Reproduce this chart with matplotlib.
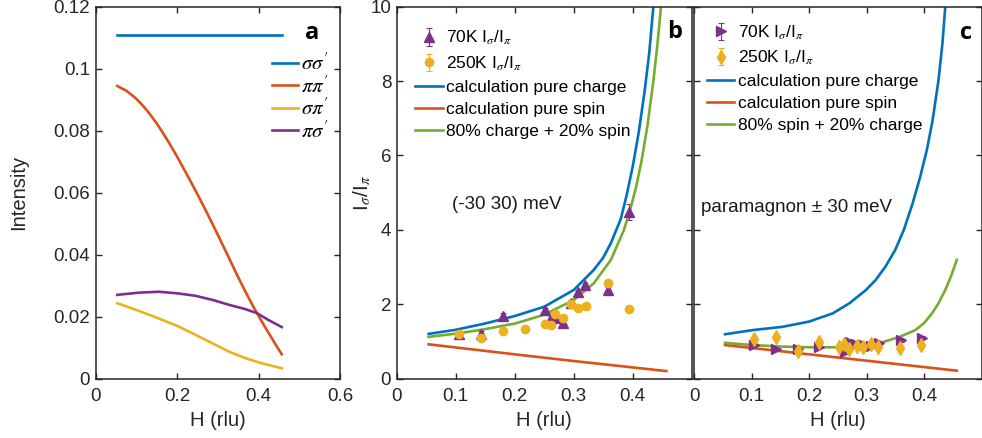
import matplotlib
matplotlib.use('Agg')
import matplotlib.pyplot as plt

plt.rcParams['font.family'] = ['Liberation Sans', 'DejaVu Sans']
plt.rcParams['mathtext.fontset'] = 'stix'

BLUE = '#0072BD'; ORANGE = '#D95319'; YELLOW = '#EDB120'; PURPLE = '#7E2F8E'; GREEN = '#77AC30'
SPINE = '#262626'

# ---------------- panel a data ----------------
h_ss = [0.052, 0.457]
i_ss = [0.111, 0.111]
h_pp = [0.053, 0.075, 0.098, 0.115, 0.131, 0.15, 0.163, 0.18, 0.2, 0.22, 0.245, 0.265, 0.286,
        0.305, 0.327, 0.345, 0.367, 0.385, 0.4, 0.415, 0.433, 0.445, 0.457]
i_pp = [0.0944, 0.0929, 0.0905, 0.0882, 0.0857, 0.0823, 0.0797, 0.0761, 0.0716, 0.0668, 0.0607, 0.0556, 0.0501,
        0.0450, 0.0390, 0.0340, 0.0282, 0.0237, 0.0202, 0.0168, 0.0129, 0.0103, 0.0078]
h_sp = [0.053, 0.098, 0.147, 0.2, 0.245, 0.286, 0.327, 0.367, 0.408, 0.457]
i_sp = [0.0243, 0.0222, 0.0198, 0.0170, 0.0141, 0.0114, 0.0087, 0.0066, 0.0049, 0.0033]
h_ps = [0.053, 0.106, 0.155, 0.2, 0.245, 0.286, 0.327, 0.367, 0.396, 0.424, 0.457]
i_ps = [0.0270, 0.0277, 0.0280, 0.0275, 0.0267, 0.0254, 0.0238, 0.0224, 0.0211, 0.0189, 0.0166]

# ---------------- panel b data ----------------
hb_charge = [0.054, 0.10, 0.15, 0.20, 0.25, 0.30, 0.334, 0.35, 0.363, 0.38, 0.39, 0.40, 0.41, 0.42, 0.428, 0.435]
rb_charge = [1.20, 1.31, 1.48, 1.68, 1.93, 2.38, 2.92, 3.25, 3.64, 4.30, 4.95, 5.70, 6.60, 7.70, 8.75, 10.0]
hb_spin = [0.054, 0.20, 0.30, 0.457]
rb_spin = [0.92, 0.65, 0.47, 0.20]
hb_mix = [0.054, 0.102, 0.147, 0.201, 0.249, 0.30, 0.334, 0.363, 0.385, 0.395, 0.405, 0.415, 0.425, 0.435, 0.442, 0.448]
rb_mix = [1.12, 1.21, 1.32, 1.48, 1.71, 2.11, 2.56, 3.19, 3.99, 4.50, 5.10, 5.85, 6.80, 8.00, 9.00, 10.0]

hb_70 = [0.105, 0.143, 0.180, 0.252, 0.262, 0.271, 0.282, 0.295, 0.308, 0.319, 0.358, 0.394]
rb_70 = [1.19, 1.21, 1.69, 1.84, 1.62, 1.64, 1.48, 2.04, 2.33, 2.52, 2.38, 4.47]
eb_70 = [0.06, 0.06, 0.06, 0.06, 0.06, 0.06, 0.06, 0.06, 0.06, 0.06, 0.08, 0.22]
hb_250 = [0.105, 0.143, 0.180, 0.217, 0.252, 0.261, 0.268, 0.282, 0.295, 0.308, 0.320, 0.358, 0.394]
rb_250 = [1.21, 1.08, 1.29, 1.32, 1.47, 1.44, 1.73, 1.62, 2.00, 1.89, 1.96, 2.58, 1.86]
eb_250 = [0.04] * 13

# ---------------- panel c data ----------------
hc_charge = [0.054, 0.101, 0.154, 0.20, 0.241, 0.27, 0.299, 0.316, 0.333, 0.35, 0.365, 0.38, 0.393,
             0.405, 0.415, 0.425, 0.432, 0.437]
rc_charge = [1.19, 1.30, 1.39, 1.53, 1.75, 2.02, 2.38, 2.65, 3.01, 3.46, 4.0, 4.7, 5.4,
             6.15, 6.95, 8.0, 9.0, 10.0]
hc_spin = [0.054, 0.457]
rc_spin = [0.90, 0.21]
hc_mix = [0.054, 0.101, 0.15, 0.2, 0.27, 0.316, 0.356, 0.385, 0.40, 0.414, 0.425, 0.437, 0.447, 0.457]
rc_mix = [0.96, 0.90, 0.86, 0.84, 0.84, 0.92, 1.11, 1.30, 1.49, 1.75, 2.02, 2.38, 2.75, 3.19]

hc_70 = [0.104, 0.143, 0.181, 0.217, 0.263, 0.271, 0.281, 0.295, 0.307, 0.322, 0.360, 0.396]
rc_70 = [0.90, 0.78, 0.78, 0.86, 0.72, 0.99, 0.93, 0.90, 0.87, 0.96, 1.04, 1.10]
ec_70 = [0.05] * 12
hc_250 = [0.104, 0.143, 0.181, 0.217, 0.253, 0.261, 0.269, 0.283, 0.294, 0.307, 0.320, 0.358, 0.394]
rc_250 = [1.05, 1.12, 0.75, 0.99, 0.84, 0.94, 0.80, 0.87, 0.84, 0.93, 0.84, 0.81, 0.90]
ec_250 = [0.04] * 13

fig = plt.figure(figsize=(9.82, 4.38), dpi=100)
W, H = 982.0, 438.0
def axes_px(l, r, t, b):
    return fig.add_axes([l / W, 1 - b / H, (r - l) / W, (b - t) / H])

ax_a = axes_px(95.7, 340.0, 6.7, 378.5)
ax_b = axes_px(396.7, 691.7, 6.7, 378.5)
ax_c = axes_px(694.0, 981.5, 6.7, 378.5)

for ax in (ax_a, ax_b, ax_c):
    for s in ax.spines.values():
        s.set_color(SPINE)
        s.set_linewidth(1.1)
    ax.tick_params(direction='in', top=True, right=True, length=4.5, width=1.0,
                   color=SPINE, labelsize=13.5, labelcolor='#262626')
    ax.tick_params(axis='x', pad=7)
    ax.tick_params(axis='y', pad=4)

LW = 1.9

def ordered_legend(ax, **kw):
    hs, ls = ax.get_legend_handles_labels()
    order = [3, 4, 0, 1, 2]
    return ax.legend([hs[i] for i in order], [ls[i] for i in order], **kw)

# ---------- panel a ----------
ax_a.plot(h_ss, i_ss, color=BLUE, lw=LW, label=r"$\sigma\sigma'$")
ax_a.plot(h_pp, i_pp, color=ORANGE, lw=LW, label=r"$\pi\pi'$")
ax_a.plot(h_sp, i_sp, color=YELLOW, lw=LW, label=r"$\sigma\pi'$")
ax_a.plot(h_ps, i_ps, color=PURPLE, lw=LW, label=r"$\pi\sigma'$")
ax_a.set_xlim(0, 0.6)
ax_a.set_ylim(0, 0.12)
ax_a.set_xticks([0, 0.2, 0.4, 0.6])
ax_a.set_xticklabels(['0', '0.2', '0.4', '0.6'])
ax_a.set_yticks([0, 0.02, 0.04, 0.06, 0.08, 0.1, 0.12])
ax_a.set_yticklabels(['0', '0.02', '0.04', '0.06', '0.08', '0.1', '0.12'])
ax_a.set_xlabel('H (rlu)', fontsize=14.5, color='#262626')
ax_a.set_ylabel('Intensity', fontsize=14.5, color='#262626', labelpad=18)
ax_a.legend(loc='upper left', bbox_to_anchor=(0.722, 0.876), frameon=False, borderpad=0,
            borderaxespad=0, handlelength=1.25, handletextpad=0.12, labelspacing=0.05, fontsize=15)
ax_a.text(0.885, 0.929, 'a', transform=ax_a.transAxes, ha='center', va='center',
          fontsize=17, fontweight='bold', family=['Open Sans', 'DejaVu Sans'])

# ---------- panel b ----------
ax_b.errorbar(hb_70, rb_70, yerr=eb_70, fmt='^', color=PURPLE, ms=6.5, capsize=2, elinewidth=0.8,
              capthick=0.8, label=r'70K I$_{\sigma}$/I$_{\pi}$')
ax_b.errorbar(hb_250, rb_250, yerr=eb_250, fmt='o', color=YELLOW, ms=6, capsize=2, elinewidth=0.8,
              capthick=0.8, label=r'250K I$_{\sigma}$/I$_{\pi}$')
ax_b.plot(hb_charge, rb_charge, color=BLUE, lw=LW, label='calculation pure charge')
ax_b.plot(hb_spin, rb_spin, color=ORANGE, lw=LW, label='calculation pure spin')
ax_b.plot(hb_mix, rb_mix, color=GREEN, lw=LW, label='80% charge + 20% spin')
ax_b.set_xlim(0, 0.5)
ax_b.set_ylim(0, 10)
ax_b.set_xticks([0, 0.1, 0.2, 0.3, 0.4])
ax_b.set_xticklabels(['0', '0.1', '0.2', '0.3', '0.4'])
ax_b.set_yticks([0, 2, 4, 6, 8, 10])
ax_b.set_xlabel('H (rlu)', fontsize=14.5, color='#262626')
ax_b.set_ylabel(r'I$_{\sigma}$/I$_{\pi}$', fontsize=15, color='#262626', labelpad=-2)
ordered_legend(ax_b, loc='upper left', bbox_to_anchor=(0.062, 0.94), frameon=False, borderpad=0,
               borderaxespad=0, handlelength=1.6, handletextpad=0.2, labelspacing=0.4, fontsize=12.5)
ax_b.text(0.0935, 4.67, '(-30 30) meV', ha='left', va='center', fontsize=13.5, color='#1a1a1a')
ax_b.text(0.943, 0.932, 'b', transform=ax_b.transAxes, ha='center', va='center',
          fontsize=17, fontweight='bold', family=['Open Sans', 'DejaVu Sans'])

# ---------- panel c ----------
ax_c.errorbar(hc_70, rc_70, yerr=ec_70, fmt='>', color=PURPLE, ms=6.5, capsize=2, elinewidth=0.8,
              capthick=0.8, label=r'70K I$_{\sigma}$/I$_{\pi}$')
ax_c.errorbar(hc_250, rc_250, yerr=ec_250, fmt='d', color=YELLOW, ms=7, capsize=2, elinewidth=0.8,
              capthick=0.8, label=r'250K I$_{\sigma}$/I$_{\pi}$')
ax_c.plot(hc_charge, rc_charge, color=BLUE, lw=LW, label='calculation pure charge')
ax_c.plot(hc_spin, rc_spin, color=ORANGE, lw=LW, label='calculation pure spin')
ax_c.plot(hc_mix, rc_mix, color=GREEN, lw=LW, label='80% spin + 20% charge')
ax_c.set_xlim(0, 0.5)
ax_c.set_ylim(0, 10)
ax_c.set_xticks([0, 0.1, 0.2, 0.3, 0.4])
ax_c.set_xticklabels(['0', '0.1', '0.2', '0.3', '0.4'])
ax_c.set_yticks([0, 2, 4, 6, 8, 10])
ax_c.set_yticklabels([])
ax_c.set_xlabel('H (rlu)', fontsize=14.5, color='#262626')
ordered_legend(ax_c, loc='upper left', bbox_to_anchor=(0.044, 0.955), frameon=False, borderpad=0,
               borderaxespad=0, handlelength=1.6, handletextpad=0.2, labelspacing=0.4, fontsize=12.5)
ax_c.text(0.012, 4.59, 'paramagnon \u00b1 30 meV', ha='left', va='center', fontsize=13.5, color='#1a1a1a')
ax_c.text(0.948, 0.929, 'c', transform=ax_c.transAxes, ha='center', va='center',
          fontsize=17, fontweight='bold', family=['Open Sans', 'DejaVu Sans'])

fig.savefig('out.png', dpi=100)
